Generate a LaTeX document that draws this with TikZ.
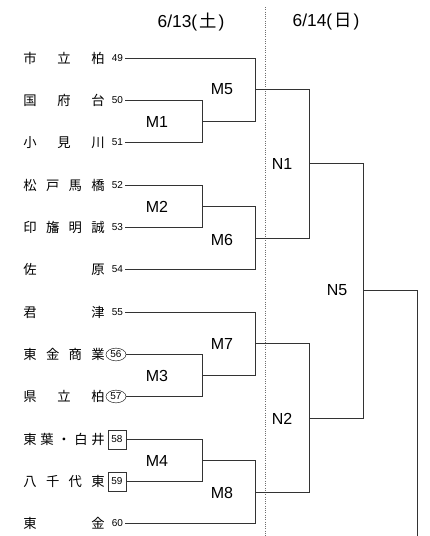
\documentclass[tikz,border=0pt]{standalone}
\usepackage{fontspec}
\setmainfont{Liberation Sans}
\newfontfamily\jpfont{Noto Sans CJK JP}
\usepackage{tikz}
\usetikzlibrary{shapes.geometric}
\definecolor{brLine}{HTML}{333333}
\definecolor{brDot}{HTML}{6E6E6E}
\newcommand{\spreadname}[1]{\hbox to 61pt{#1}}

\begin{document}
\begin{tikzpicture}[x=0.75pt, y=-0.75pt,
  team/.style={font=\jpfont\fontsize{10}{12}\selectfont, inner sep=0pt},
  seed/.style={font=\fontsize{7.5}{9}\selectfont, inner sep=1.5pt},
  seedc/.style={seed, draw=brLine, ellipse, inner sep=0pt, minimum width=15pt, minimum height=9.5pt},
  seedb/.style={seed, draw=brLine, inner sep=0pt, minimum width=13.5pt, minimum height=14pt},
  match/.style={font=\fontsize{12}{14}\selectfont, inner sep=1pt},
  date/.style={font=\fontsize{13}{15}\selectfont, inner sep=1pt},
  br/.style={draw=brLine, line width=0.75pt}
]
  \useasboundingbox (0,0) rectangle (429,536);

  \node[date] (d13) at (191,22) {6/13({\jpfont\hspace{1.5pt}土\hspace{1.5pt}})};
  \node[date] (d14) at (326,22) {6/14({\jpfont\hspace{1.5pt}日\hspace{1.5pt}})};
  \coordinate (divtop) at (265.5,7);
  \coordinate (divbot) at (265.5,536);
  \draw[brDot, densely dotted, line width=0.7pt] (divtop) -- (divbot);

  \node[team] (s49) at (64,58.5) {\spreadname{市\hfill 立\hfill 柏}};
  \node[team] (s50) at (64,100.5) {\spreadname{国\hfill 府\hfill 台}};
  \node[team] (s51) at (64,142.5) {\spreadname{小\hfill 見\hfill 川}};
  \node[team] (s52) at (64,185.5) {\spreadname{松\hfill 戸\hfill 馬\hfill 橋}};
  \node[team] (s53) at (64,227.5) {\spreadname{印\hfill 旛\hfill 明\hfill 誠}};
  \node[team] (s54) at (64,269.5) {\spreadname{佐\hfill 原}};
  \node[team] (s55) at (64,312.5) {\spreadname{君\hfill 津}};
  \node[team] (s56) at (64,354.5) {\spreadname{東\hfill 金\hfill 商\hfill 業}};
  \node[team] (s57) at (64,396.5) {\spreadname{県\hfill 立\hfill 柏}};
  \node[team] (s58) at (64,439.5) {\spreadname{東\hfill 葉\hfill ・\hfill 白\hfill 井}};
  \node[team] (s59) at (64,481.5) {\spreadname{八\hfill 千\hfill 代\hfill 東}};
  \node[team] (s60) at (64,523.5) {\spreadname{東\hfill 金}};

  \node[seed] (t49) at (117.5,58.5) {49};
  \node[seed] (t50) at (117.5,100.5) {50};
  \node[seed] (t51) at (117.5,142.5) {51};
  \node[seed] (t52) at (117.5,185.5) {52};
  \node[seed] (t53) at (117.5,227.5) {53};
  \node[seed] (t54) at (117.5,269.5) {54};
  \node[seed] (t55) at (117.5,312.5) {55};
  \node[seedc] (t56) at (116,354.5) {56};
  \node[seedc] (t57) at (116,396.5) {57};
  \node[seedb] (t58) at (117,439.5) {58};
  \node[seedb] (t59) at (117,481.5) {59};
  \node[seed] (t60) at (117.5,523.5) {60};

  \coordinate (m1j) at (202.5,121.5);
  \coordinate (m2j) at (202.5,206.5);
  \coordinate (m3j) at (202.5,375.5);
  \coordinate (m4j) at (202.5,460.5);
  \coordinate (m5j) at (255.5,89.5);
  \coordinate (m6j) at (255.5,238.5);
  \coordinate (m7j) at (255.5,343.5);
  \coordinate (m8j) at (255.5,492.5);
  \coordinate (n1j) at (309.5,163.5);
  \coordinate (n2j) at (309.5,418.5);
  \coordinate (n5j) at (363.5,290.5);
  \coordinate (champ) at (417.5,536);

  \node[match] (M1) at (157,121.5) {M1};
  \node[match] (M2) at (157,206.5) {M2};
  \node[match] (M3) at (157,375.5) {M3};
  \node[match] (M4) at (157,460.5) {M4};
  \node[match] (M5) at (222,89.5) {M5};
  \node[match] (M6) at (222,239.5) {M6};
  \node[match] (M7) at (222,343.5) {M7};
  \node[match] (M8) at (222,492.5) {M8};
  \node[match] (N1) at (282,163.5) {N1};
  \node[match] (N2) at (282,418.5) {N2};
  \node[match] (N5) at (337,290.5) {N5};

  \draw[br] (t50.east) -| (m1j) |- (t51.east);
  \draw[br] (t52.east) -| (m2j) |- (t53.east);
  \draw[br] (t56.east) -| (m3j) |- (t57.east);
  \draw[br] (t58.east) -| (m4j) |- (t59.east);
  \draw[br] (t49.east) -| (m5j) |- (m1j);
  \draw[br] (m2j) -| (m6j) |- (t54.east);
  \draw[br] (t55.east) -| (m7j) |- (m3j);
  \draw[br] (m4j) -| (m8j) |- (t60.east);
  \draw[br] (m5j) -| (n1j) |- (m6j);
  \draw[br] (m7j) -| (n2j) |- (m8j);
  \draw[br] (n1j) -| (n5j) |- (n2j);
  \draw[br] (n5j) -| (champ);
\end{tikzpicture}
\end{document}
